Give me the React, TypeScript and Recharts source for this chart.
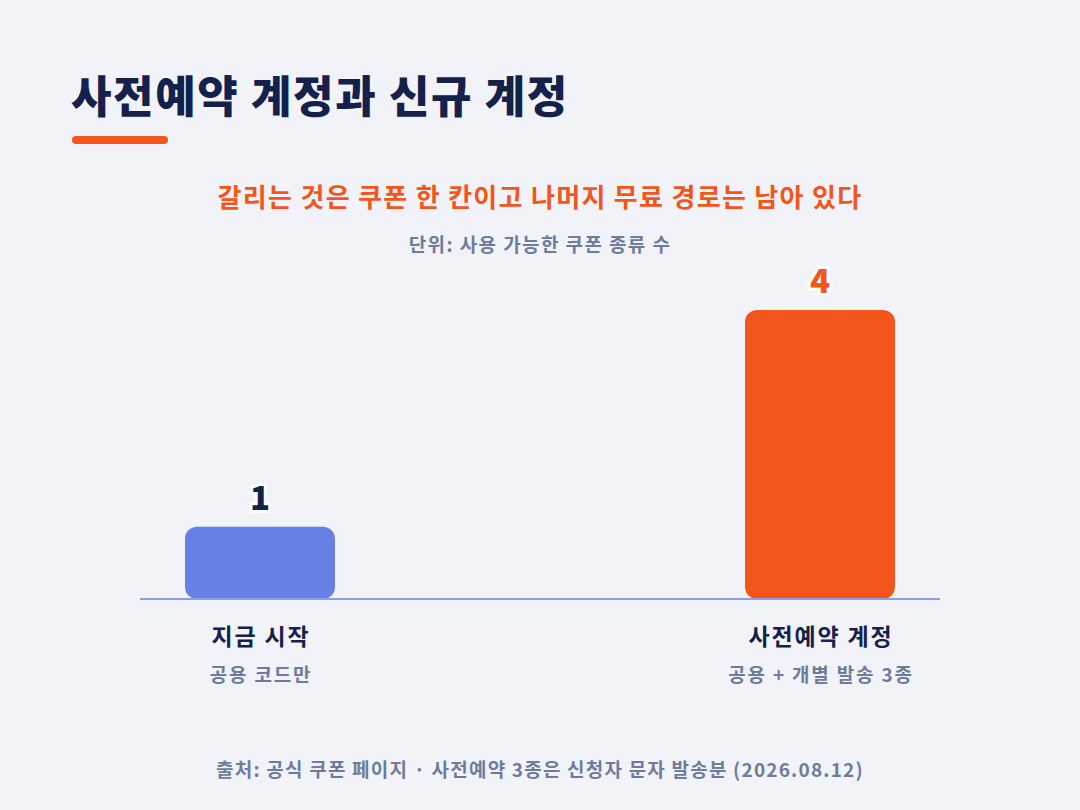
import React from "react";
import { BarChart, Bar, XAxis, YAxis, Cell, LabelList } from "recharts";

const NAVY = "#14214a";
const GRAY = "#6e7c9c";
const ORANGE = "#f2561d";
const BLUE = "#6680e6";
const FONT = "'Noto Sans CJK KR', 'Noto Sans', sans-serif";

const categories = ["지금 시작", "사전예약 계정"];
const subLabels = ["공용 코드만", "공용 + 개별 발송 3종"];
const couponKinds = [1, 4];
const barColors = [BLUE, ORANGE];
const labelColors = [NAVY, ORANGE];

const data = categories.map((name, i) => ({
  name,
  sub: subLabels[i],
  value: couponKinds[i],
}));

const CategoryTick = (props: any) => {
  const { x, y, payload, index } = props;
  return (
    <g>
      <text
        x={x + 1}
        y={y + 38}
        textAnchor="middle"
        fontFamily={FONT}
        fontWeight={700}
        fontSize={23}
        fill={NAVY}
        style={{ letterSpacing: 1.8 }}
      >
        {payload.value}
      </text>
      <text
        x={x + 1}
        y={y + 75}
        textAnchor="middle"
        fontFamily={FONT}
        fontWeight={600}
        fontSize={19}
        fill={GRAY}
        style={{ letterSpacing: 1.8 }}
      >
        {subLabels[index]}
      </text>
    </g>
  );
};

const ValueLabel = (props: any) => {
  const { x, y, width, value, index } = props;
  return (
    <text
      x={x + width / 2}
      y={y - 17}
      textAnchor="middle"
      fontFamily={FONT}
      fontWeight={800}
      fontSize={33}
      fill={labelColors[index]}
      stroke="#ffffff"
      strokeWidth={6}
      strokeLinejoin="round"
      paintOrder="stroke"
    >
      {value}
    </text>
  );
};

const App = () => (
  <div
    style={{
      position: "absolute",
      left: 0,
      top: 0,
      width: 1080,
      height: 810,
      background: "#f2f3f8",
      fontFamily: FONT,
      overflow: "hidden",
    }}
  >
    <div style={{ position: "absolute", left: 71, top: 62, fontSize: 44, fontWeight: 800, color: NAVY, letterSpacing: 1.6, whiteSpace: "nowrap" }}>
      사전예약 계정과 신규 계정
    </div>
    <div style={{ position: "absolute", left: 72, top: 136, width: 96, height: 8, borderRadius: 4, background: ORANGE }} />
    <div style={{ position: "absolute", left: 0, width: 1080, top: 177, textAlign: "center", fontSize: 26, fontWeight: 700, color: ORANGE, letterSpacing: 1.3 }}>
      갈리는 것은 쿠폰 한 칸이고 나머지 무료 경로는 남아 있다
    </div>
    <div style={{ position: "absolute", left: 0, width: 1080, top: 230, textAlign: "center", fontSize: 19, fontWeight: 600, color: GRAY, letterSpacing: 1.4 }}>
      단위: 사용 가능한 쿠폰 종류 수
    </div>

    <div style={{ position: "absolute", left: 0, top: 0 }}>
      <BarChart
        width={1080}
        height={810}
        data={data}
        margin={{ top: 310, right: 140, bottom: 111, left: 140 }}
      >
        <XAxis
          dataKey="name"
          height={100}
          padding={{ left: -160, right: -160 }}
          axisLine={{ stroke: "#86a0ee", strokeWidth: 2 }}
          tickLine={false}
          tick={<CategoryTick />}
          interval={0}
        />
        <YAxis hide width={0} domain={[0, 4]} />
        <Bar dataKey="value" barSize={150} radius={12} isAnimationActive={false}>
          {data.map((d, i) => (
            <Cell key={d.name} fill={barColors[i]} />
          ))}
          <LabelList dataKey="value" content={<ValueLabel />} />
        </Bar>
      </BarChart>
    </div>

    <div style={{ position: "absolute", left: 0, width: 1080, top: 755, textAlign: "center", fontSize: 19, fontWeight: 600, color: GRAY, letterSpacing: 1.2 }}>
      출처: 공식 쿠폰 페이지 · 사전예약 3종은 신청자 문자 발송분 (2026.08.12)
    </div>
  </div>
);

export default App;
